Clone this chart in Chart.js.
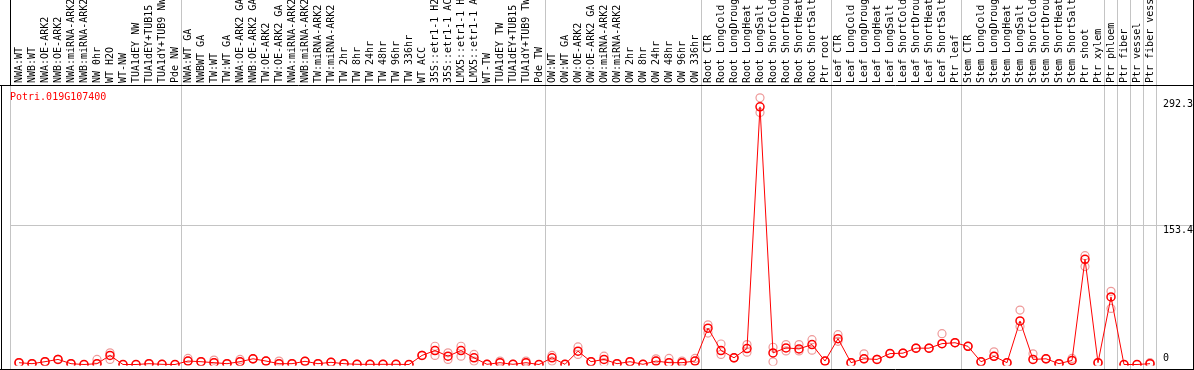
<!DOCTYPE html>
<html>
<head>
<meta charset="utf-8">
<script src="https://cdn.jsdelivr.net/npm/chart.js@4.4.1/dist/chart.umd.min.js"></script>
<style>
  body { margin: 0; background: #fff; }
  #wrap { width: 1194px; height: 370px; }
</style>
</head>
<body>
<div id="wrap"><canvas id="lineChart" width="1194" height="370"></canvas></div>
<script>
const geneName = 'Potri.019G107400';

const sampleLabels = [
    'NWA:WT', 'NWB:WT', 'NWA:OE-ARK2', 'NWB:OE-ARK2', 'NWA:miRNA-ARK2', 'NWB:miRNA-ARK2',
    'NW 0hr', 'WT H2O', 'WT-NW', 'TUA1dEY NW', 'TUA1dEY+TUB15 NW', 'TUA1dY+TUB9 NW', 'Pde NW',
    'NWA:WT GA', 'NWBWT GA', 'TW:WT', 'TW:WT GA', 'NWA:OE-ARK2 GA', 'NWB:OE-ARK2 GA',
    'TW:OE-ARK2', 'TW:OE-ARK2 GA', 'NWA:miRNA-ARK2', 'NWB:miRNA-ARK2', 'TW:miRNA-ARK2', 'TW:miRNA-ARK2',
    'TW 2hr', 'TW 8hr', 'TW 24hr', 'TW 48hr', 'TW 96hr', 'TW 336hr', 'WT ACC',
    '35S::etr1-1 H2O', '35S::etr1-1 ACC', 'LMX5::etr1-1 H2O', 'LMX5::etr1-1 ACC',
    'WT-TW', 'TUA1dEY TW', 'TUA1dEY+TUB15 TW', 'TUA1dY+TUB9 TW', 'Pde TW',
    'OW:WT', 'OW:WT GA', 'OW:OE-ARK2', 'OW:OE-ARK2 GA', 'OW:miRNA-ARK2', 'OW:miRNA-ARK2',
    'OW 2hr', 'OW 8hr', 'OW 24hr', 'OW 48hr', 'OW 96hr', 'OW 336hr',
    'Root CTR', 'Root LongCold', 'Root LongDrought', 'Root LongHeat', 'Root LongSalt',
    'Root ShortCold', 'Root ShortDrought', 'Root ShortHeat', 'Root ShortSalt', 'Ptr root',
    'Leaf CTR', 'Leaf LongCold', 'Leaf LongDrought', 'Leaf LongHeat', 'Leaf LongSalt',
    'Leaf ShortCold', 'Leaf ShortDrought', 'Leaf ShortHeat', 'Leaf ShortSalt', 'Ptr leaf',
    'Stem CTR', 'Stem LongCold', 'Stem LongDrought', 'Stem LongHeat', 'Stem LongSalt',
    'Stem ShortCold', 'Stem ShortDrought', 'Stem ShortHeat', 'Stem ShortSalt', 'Ptr shoot',
    'Ptr xylem', 'Ptr phloem', 'Ptr fiber', 'Ptr vessel', 'Ptr fiber vessel'
];

// mean expression per sample
const meanValues = [
    2.0, 0.9, 3.1, 5.6, 0.9, 0, 0.9, 10.0, 0, 0,
    0.9, 0.2, 0, 3.8, 3.1, 2.0, 0.9, 3.1, 6.3, 3.8,
    0.9, 0.9, 3.5, 0.9, 2.4, 0.9, 0.2, 0.2, 0.2, 0.2,
    0, 10.0, 15.4, 9.2, 15.4, 7.4, 0.2, 2.0, 0.2, 2.0,
    0, 7.4, 0.2, 14.7, 3.1, 5.6, 0.9, 3.1, 0.2, 3.8,
    2.0, 2.0, 3.8, 40.0, 15.4, 7.4, 17.6, 284.0, 12.8, 18.3,
    17.2, 22.0, 3.8, 28.5, 2.0, 6.3, 5.6, 12, 12.5, 18,
    18, 23, 24, 20, 3, 9, 2.0, 48.0, 5.6, 6.3,
    0.9, 4.5, 116, 2.0, 74.5, 0, 0, 0.9
];

// replicates (upper / lower)
const repHigh = [
    2.0, 0.9, 3.1, 5.6, 0.9, 0, 5.6, 12.9, 0, 0,
    0.9, 0.2, 0, 6.7, 3.1, 4.9, 0.9, 5.6, 6.3, 3.8,
    3.8, 0.9, 3.5, 0.9, 2.4, 0.9, 0.2, 0.2, 0.2, 0.2,
    0, 10.0, 20.1, 12.9, 20.1, 11.1, 0.2, 3.8, 0.2, 3.8,
    0, 10.0, 0.2, 19.4, 3.1, 9.2, 0.9, 3.1, 0.2, 6.3,
    6.7, 3.8, 6.7, 43.7, 22.6, 7.4, 22.0, 294, 19.0, 22.0,
    22.0, 27.4, 3.8, 32.9, 2.0, 11.8, 5.6, 12, 12.5, 18,
    18, 34, 24, 20, 3, 14, 2.0, 60, 11.8, 6.3,
    0.9, 6.7, 120, 2.0, 80.7, 0, 0, 2.0
];
const repLow = [
    2.0, 0.9, 3.1, 5.6, 0.9, 0, 0.9, 5.6, 0, 0,
    0.9, 0.2, 0, 3.8, 3.1, 2.0, 0.9, 3.1, 6.3, 3.8,
    0.9, 0.9, 3.5, 0.9, 2.4, 0.9, 0.2, 0.2, 0.2, 0.2,
    0, 10.0, 10.0, 5.6, 9.2, 3.8, 0.2, 2.0, 0.2, 2.0,
    0, 3.8, 0.2, 11.1, 3.1, 2.0, 0.9, 3.1, 0.2, 3.8,
    2.0, 2.0, 3.8, 34.6, 11.1, 7.4, 13.6, 277.7, 3.0, 15,
    15, 15.8, 3.8, 25.6, 2.0, 6.3, 5.6, 12, 12.5, 18,
    18, 23, 24, 20, 3, 9, 2.0, 41.9, 5.6, 6.3,
    0.9, 4.5, 108, 2.0, 61.8, 0, 0, 0.9
];

const yTickValues = [0, 153.4, 292.3];
// group boundaries come after these sample indices
const groupEnds = [12, 40, 52, 62, 72, 83, 84, 85, 86, 87];

const monoFont = 'DejaVu Sans Mono';
const gridGray = '#c4c4c4';

const framePlugin = {
    id: 'frame',
    beforeDatasetsDraw(chart) {
        const ctx = chart.ctx;
        const xs = chart.scales.x;
        const ys = chart.scales.y;
        const area = chart.chartArea;
        const W = chart.width;
        const bottomY = 369.5;
        const step = xs.getPixelForValue(1) - xs.getPixelForValue(0);

        ctx.save();
        ctx.lineWidth = 1;

        // gray separators between sample groups
        ctx.strokeStyle = gridGray;
        groupEnds.forEach(i => {
            const x = Math.round(xs.getPixelForValue(i) + step / 2) - 0.5;
            ctx.beginPath();
            ctx.moveTo(x, 0);
            ctx.lineTo(x, bottomY);
            ctx.stroke();
        });
        ctx.beginPath();
        ctx.moveTo(10.5, area.top);
        ctx.lineTo(10.5, bottomY);
        ctx.stroke();

        // middle gridline
        const gy = Math.round(ys.getPixelForValue(yTickValues[1])) + 0.5;
        ctx.beginPath();
        ctx.moveTo(10, gy);
        ctx.lineTo(W, gy);
        ctx.stroke();

        // black frame
        ctx.strokeStyle = '#000';
        ctx.beginPath();
        ctx.moveTo(0, area.top - 0.5);
        ctx.lineTo(W, area.top - 0.5);
        ctx.moveTo(0, bottomY);
        ctx.lineTo(W, bottomY);
        ctx.moveTo(10.5, 0);
        ctx.lineTo(10.5, area.top);
        ctx.moveTo(1.5, area.top);
        ctx.lineTo(1.5, bottomY);
        ctx.moveTo(W - 0.5, 0);
        ctx.lineTo(W - 0.5, bottomY);
        ctx.stroke();

        // gene name
        ctx.fillStyle = '#ff0000';
        ctx.font = '10px "' + monoFont + '"';
        ctx.textAlign = 'left';
        ctx.textBaseline = 'middle';
        ctx.fillText(geneName, 10, 97);

        // value labels on the right
        ctx.fillStyle = '#000';
        yTickValues.forEach(v => {
            const py = ys.getPixelForValue(v);
            ctx.fillText(String(v), 1163, v === 0 ? py - 6.5 : py + 5);
        });
        ctx.restore();
    }
};

function renderLineChart() {
    const config = {
        type: 'line',
        data: {
            labels: sampleLabels,
            datasets: [{
                label: 'mean',
                data: meanValues,
                borderColor: '#ff0000',
                borderWidth: 1,
                pointRadius: 4,
                pointBorderWidth: 1.5,
                pointBorderColor: '#ff0000',
                pointBackgroundColor: 'rgba(0,0,0,0)',
                tension: 0,
                clip: { left: 10, right: 10, top: 10, bottom: 1 }
            }, {
                label: 'rep high',
                data: repHigh,
                showLine: false,
                pointRadius: 4,
                pointBorderWidth: 1.2,
                pointBorderColor: '#ee9a9a',
                pointBackgroundColor: 'rgba(0,0,0,0)',
                clip: { left: 10, right: 10, top: 10, bottom: 1 }
            }, {
                label: 'rep low',
                data: repLow,
                showLine: false,
                pointRadius: 4,
                pointBorderWidth: 1.2,
                pointBorderColor: '#ee9a9a',
                pointBackgroundColor: 'rgba(0,0,0,0)',
                clip: { left: 10, right: 10, top: 10, bottom: 1 }
            }]
        },
        options: {
            responsive: false,
            animation: false,
            layout: {
                padding: { left: 12.5, right: 37.5, top: 0, bottom: 1.5 }
            },
            plugins: {
                legend: { display: false },
                tooltip: { enabled: false }
            },
            scales: {
                x: {
                    position: 'top',
                    offset: true,
                    grid: { display: false, drawTicks: false },
                    border: { display: false },
                    ticks: {
                        autoSkip: false,
                        minRotation: 90,
                        maxRotation: 90,
                        padding: 3,
                        labelOffset: 12,
                        color: '#000',
                        font: { family: monoFont, size: 10 }
                    },
                    afterFit: (scale) => { scale.height = 86; }
                },
                y: {
                    display: false,
                    min: 0,
                    max: 307
                }
            }
        },
        plugins: [framePlugin]
    };

    new Chart(document.getElementById('lineChart'), config);
}

renderLineChart();
</script>
</body>
</html>
